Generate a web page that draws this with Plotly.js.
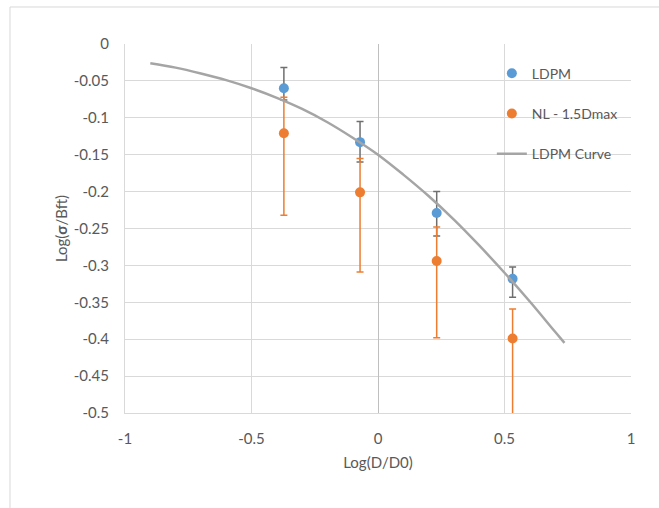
<!DOCTYPE html>
<html>
<head>
<meta charset="utf-8">
<script src="https://cdn.plot.ly/plotly-3.0.1.min.js"></script>
<style>
  html, body { margin: 0; padding: 0; background: #fff; }
  #chart { width: 659px; height: 508px; }
</style>
</head>
<body>
<div id="chart"></div>
<script>
// LDPM points
const ldpmX = [-0.372, -0.071, 0.232, 0.532];
const ldpmY = [-0.060, -0.133, -0.229, -0.318];
const ldpmErrPlus = [0.028, 0.028, 0.029, 0.016];
const ldpmErrMinus = [0.016, 0.027, 0.031, 0.025];

// NL - 1.5Dmax points
const nlX = [-0.372, -0.071, 0.232, 0.532];
const nlY = [-0.121, -0.201, -0.294, -0.399];
const nlErrPlus = [0.049, 0.046, 0.046, 0.040];
const nlErrMinus = [0.111, 0.108, 0.104, 0.105];

// LDPM Curve
const curveX = [-0.9, -0.8, -0.7, -0.6, -0.5, -0.4, -0.3, -0.2, -0.1, 0, 0.1, 0.2, 0.3, 0.4, 0.5, 0.6, 0.7, 0.737];
const curveY = [-0.026, -0.032, -0.040, -0.049, -0.060, -0.073, -0.088, -0.106, -0.127, -0.150, -0.177, -0.206, -0.238, -0.273, -0.310, -0.349, -0.390, -0.405];

const xTicks = [-1, -0.5, 0, 0.5, 1];
const xTickText = ['-1', '-0.5', '0', '0.5', '1'];
const yTicks = [0, -0.05, -0.1, -0.15, -0.2, -0.25, -0.3, -0.35, -0.4, -0.45, -0.5];
const yTickText = ['0', '-0.05', '-0.1', '-0.15', '-0.2', '-0.25', '-0.3', '-0.35', '-0.4', '-0.45', '-0.5'];

const FONT = 'Lato, "Open Sans", sans-serif';

const traces = [
  {
    x: ldpmX, y: ldpmY, type: 'scatter', mode: 'markers', name: 'LDPM',
    legendgroup: 'a',
    marker: { color: '#5B9BD5', size: 10 },
    error_y: { type: 'data', symmetric: false, array: ldpmErrPlus, arrayminus: ldpmErrMinus,
               color: '#6f6f6f', thickness: 1.5, width: 3.5 }
  },
  {
    x: nlX, y: nlY, type: 'scatter', mode: 'markers', name: 'NL - 1.5Dmax',
    legendgroup: 'b',
    marker: { color: '#ED7D31', size: 10 },
    error_y: { type: 'data', symmetric: false, array: nlErrPlus, arrayminus: nlErrMinus,
               color: '#ED7D31', thickness: 1.5, width: 3.5 }
  },
  {
    x: curveX, y: curveY, type: 'scatter', mode: 'lines', name: 'LDPM Curve',
    legendgroup: 'c',
    line: { color: '#A5A5A5', width: 2.5, shape: 'spline' }
  }
];

const layout = {
  width: 659, height: 508,
  margin: { l: 125, r: 28, t: 44, b: 95 },
  paper_bgcolor: '#ffffff', plot_bgcolor: '#ffffff',
  font: { family: FONT, size: 14, color: '#595959' },
  showlegend: true,
  legend: {
    x: 0.725, xanchor: 'left', y: 0.963, yanchor: 'top',
    traceorder: 'grouped', tracegroupgap: 19,
    bgcolor: 'rgba(0,0,0,0)',
    font: { family: FONT, size: 14, color: '#595959' }
  },
  xaxis: {
    range: [-1, 1], tickvals: xTicks, ticktext: xTickText,
    showgrid: true, gridcolor: '#d9d9d9', gridwidth: 1,
    zeroline: true, zerolinecolor: '#bfbfbf', zerolinewidth: 1,
    showline: true, linecolor: '#d9d9d9', linewidth: 1, mirror: false,
    ticks: '', ticklabelstandoff: 12,
    tickfont: { family: FONT, size: 15, color: '#595959' },
    title: { text: 'Log(D/D0)', font: { family: FONT, size: 15, color: '#595959' }, standoff: 11 }
  },
  yaxis: {
    range: [-0.5, 0], tickvals: yTicks, ticktext: yTickText,
    showgrid: true, gridcolor: '#d9d9d9', gridwidth: 1,
    zeroline: false,
    showline: true, linecolor: '#d9d9d9', linewidth: 1,
    ticks: '', ticklabelstandoff: 12,
    tickfont: { family: FONT, size: 15, color: '#595959' },
    title: { text: 'Log(<b>σ</b>/Bft)', font: { family: FONT, size: 15, color: '#595959' }, standoff: 2 }
  },
  shapes: [
    { type: 'rect', xref: 'paper', yref: 'paper', x0: -0.2273, x1: 1.3, y0: -0.5, y1: 1.1003,
      line: { color: '#d9d9d9', width: 1 }, fillcolor: 'rgba(0,0,0,0)', layer: 'below' }
  ]
};

Plotly.newPlot('chart', traces, layout, { staticPlot: true, displayModeBar: false });
</script>
</body>
</html>
